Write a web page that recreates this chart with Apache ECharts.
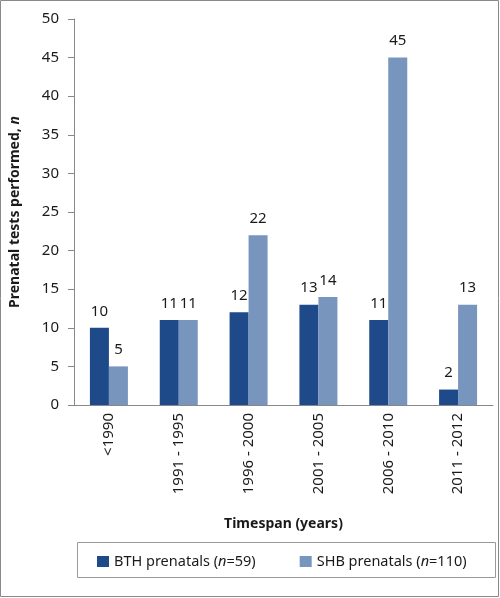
<!DOCTYPE html>
<html><head><meta charset="utf-8">
<script src="https://cdn.jsdelivr.net/npm/echarts@6/dist/echarts.min.js"></script>
<style>html,body{margin:0;padding:0;background:#fff}#c{width:500px;height:598px}</style>
</head><body><div id="c"></div>
<script>
var categories = ['<1990', '1991 - 1995', '1996 - 2000', '2001 - 2005', '2006 - 2010', '2011 - 2012'];
var bthValues = [10, 11, 12, 13, 11, 2];
var shbValues = [5, 11, 22, 14, 45, 13];
var yTicks = [0, 5, 10, 15, 20, 25, 30, 35, 40, 45, 50];
var FONT = 'Noto Sans';
var chart = echarts.init(document.getElementById('c'), null, {renderer: 'canvas'});
var rich = {
  a: {fontFamily: FONT, fontSize: 14.5, color: '#1a1a1a'},
  i: {fontFamily: FONT, fontSize: 14.5, color: '#1a1a1a', fontStyle: 'italic'}
};
chart.setOption({
  animation: false,
  graphic: [
    {type: 'rect', shape: {x: 0.5, y: 0.5, width: 498, height: 596}, style: {fill: 'none', stroke: '#8a8a8a', lineWidth: 1}},
    {type: 'rect', shape: {x: 77.5, y: 542.5, width: 418, height: 35}, style: {fill: 'none', stroke: '#9a9a9a', lineWidth: 1}}
  ],
  legend: {
    left: 92, top: 549, itemWidth: 12, itemHeight: 11, itemGap: 44,
    icon: 'rect',
    textStyle: {fontFamily: FONT, fontSize: 14.5, color: '#1a1a1a', rich: rich},
    formatter: function (name) {
      if (name === 'BTH') return '{a|BTH prenatals (}{i|n}{a|=59)}';
      return '{a|SHB prenatals (}{i|n}{a|=110)}';
    },
    data: ['BTH', 'SHB']
  },
  grid: {left: 72, right: 7, top: 19, bottom: 193, containLabel: false},
  xAxis: {
    type: 'category', data: categories,
    axisLine: {lineStyle: {color: '#888'}},
    axisTick: {alignWithLabel: false, length: 5, lineStyle: {color: '#888'}},
    axisLabel: {rotate: 90, margin: 8, fontFamily: FONT, fontSize: 15, color: '#1a1a1a', interval: 0},
    name: 'Timespan (years)', nameLocation: 'middle', nameGap: 112,
    nameTextStyle: {fontFamily: FONT, fontSize: 14, fontWeight: 'bold', color: '#1a1a1a'}
  },
  yAxis: {
    type: 'value', min: yTicks[0], max: yTicks[yTicks.length - 1], interval: 5,
    splitLine: {show: false},
    axisLine: {show: true, lineStyle: {color: '#888'}},
    axisTick: {show: true, length: 6, lineStyle: {color: '#888'}},
    axisLabel: {margin: 15, fontFamily: FONT, fontSize: 15, color: '#1a1a1a'},
    name: '{b|Prenatal tests performed, }{bi|n}', nameLocation: 'middle', nameGap: 52,
    nameTextStyle: {
      rich: {
        b: {fontFamily: FONT, fontSize: 14, fontWeight: 'bold', color: '#1a1a1a'},
        bi: {fontFamily: FONT, fontSize: 14, fontWeight: 'bold', fontStyle: 'italic', color: '#1a1a1a'}
      }
    }
  },
  series: [
    {name: 'BTH', type: 'bar', data: bthValues, barWidth: 19, barGap: '0%',
     itemStyle: {color: '#1f4a8a'},
     label: {show: true, position: 'top', distance: 9, fontFamily: FONT, fontSize: 15, color: '#1a1a1a'}},
    {name: 'SHB', type: 'bar', data: shbValues, barWidth: 19, barGap: '0%',
     itemStyle: {color: '#7895be'},
     label: {show: true, position: 'top', distance: 9, fontFamily: FONT, fontSize: 15, color: '#1a1a1a'}}
  ]
});
</script></body></html>
